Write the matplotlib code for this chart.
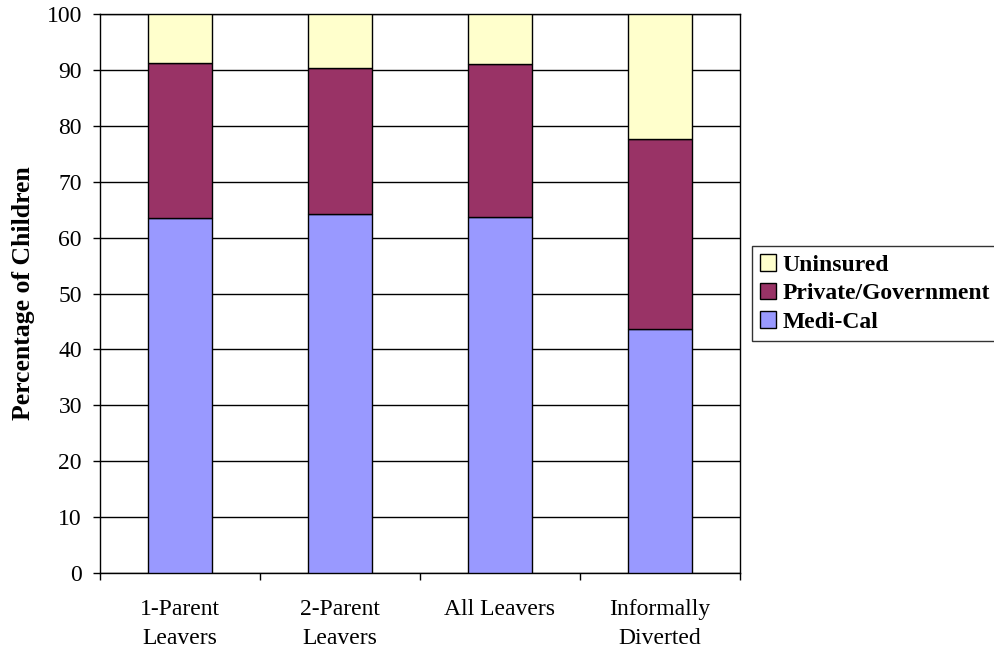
import matplotlib
matplotlib.use("Agg")
import matplotlib.pyplot as plt
import numpy as np

categories = ["1-Parent\nLeavers", "2-Parent\nLeavers", "All Leavers", "Informally\nDiverted"]
medi_cal = [63.5, 64.2, 63.6, 43.6]
private_gov = [27.8, 26.1, 27.5, 34.1]
uninsured = [8.7, 9.7, 8.9, 22.3]

plt.rcParams['font.family'] = ['Liberation Serif', 'DejaVu Serif']

fig = plt.figure(figsize=(9.95, 6.5), dpi=100)
ax = fig.add_axes([100/995, 77/650, 640/995, 559/650])

x = np.arange(len(categories))
w = 0.4
b1 = ax.bar(x, medi_cal, w, color='#9999FF', edgecolor='black', linewidth=1, label='Medi-Cal', zorder=3)
b2 = ax.bar(x, private_gov, w, bottom=medi_cal, color='#993366', edgecolor='black', linewidth=1,
            label='Private/Government', zorder=3)
bottom2 = np.array(medi_cal) + np.array(private_gov)
b3 = ax.bar(x, uninsured, w, bottom=bottom2, color='#FFFFCC', edgecolor='black', linewidth=1,
            label='Uninsured', zorder=3)

ax.set_xlim(-0.5, len(categories) - 0.5)
ax.set_ylim(0, 100)
ax.set_yticks(range(0, 101, 10))
ax.yaxis.grid(True, color='black', linewidth=1, zorder=0)

# major ticks at category boundaries, labels on minor ticks at centers
ax.set_xticks(np.arange(-0.5, len(categories), 1))
ax.set_xticklabels([])
ax.set_xticks(x, minor=True)
ax.set_xticklabels(categories, minor=True, fontsize=17, linespacing=1.45)
ax.tick_params(axis='x', which='minor', length=0, pad=19)
ax.tick_params(axis='x', which='major', length=5, direction='out', width=1)
ax.tick_params(axis='y', length=5, direction='out', width=1, labelsize=17, pad=8)

for s in ax.spines.values():
    s.set_linewidth(1)
    s.set_color('black')

ax.set_ylabel("Percentage of Children", fontsize=18.5, fontweight='bold', labelpad=8)

leg = ax.legend(handles=[b3, b2, b1], loc='center left', bbox_to_anchor=(1.018, 0.5),
                frameon=True, fancybox=False, edgecolor='black',
                prop={'weight': 'bold', 'size': 17}, handlelength=0.7, handleheight=0.7,
                handletextpad=0.25, borderpad=0.35, labelspacing=0.3, borderaxespad=0)
leg.get_frame().set_linewidth(1)

fig.savefig("out.png", dpi=100)
